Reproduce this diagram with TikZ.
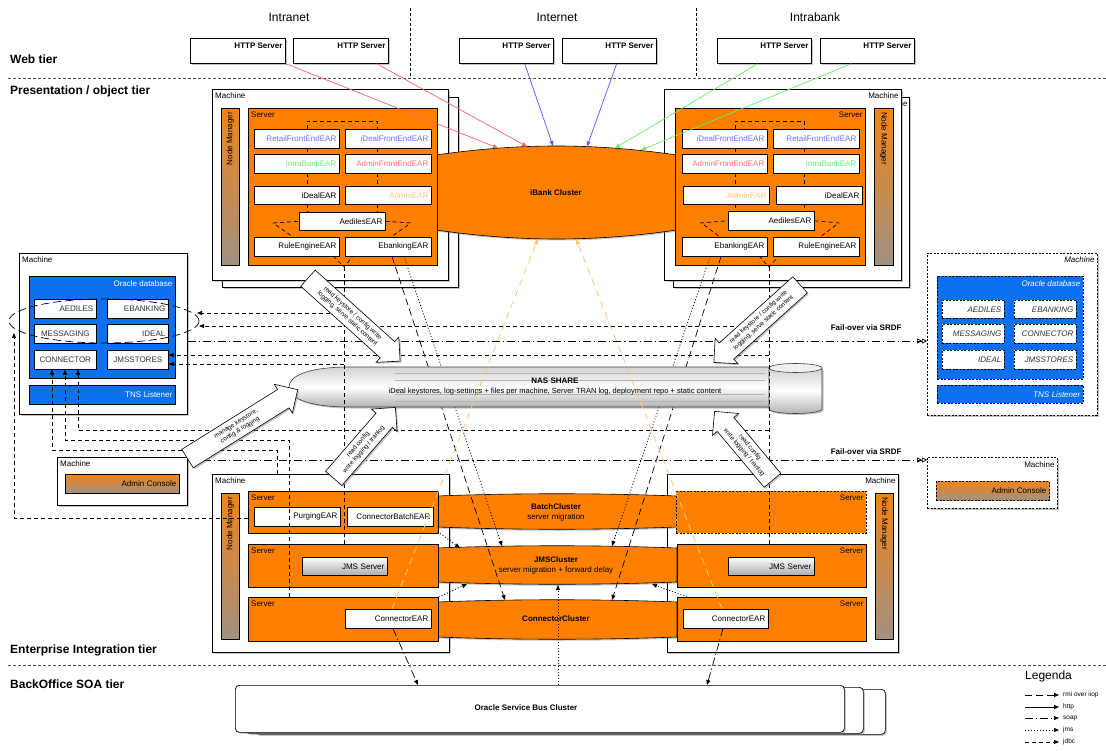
\documentclass[tikz,border=0pt]{standalone}
\usepackage{fontspec}
\setmainfont{Liberation Sans}
\usetikzlibrary{arrows.meta,shapes.arrows,shapes.geometric,shadows,calc}

\definecolor{orng}{RGB}{255,128,0}
\definecolor{dbblue}{RGB}{12,112,240}
\definecolor{earblue}{RGB}{110,110,255}
\definecolor{eargreen}{RGB}{110,235,110}
\definecolor{earred}{RGB}{255,110,110}
\definecolor{earorng}{RGB}{255,200,110}
\definecolor{httpred}{RGB}{255,100,100}
\definecolor{httpblue}{RGB}{90,90,255}
\definecolor{httpgreen}{RGB}{100,240,100}
\definecolor{nmtop}{RGB}{242,132,22}
\definecolor{nmbot}{RGB}{160,145,130}
\definecolor{dbtext}{RGB}{50,50,50}

\newcommand{\myfs}[1]{\fontsize{#1}{#1}\selectfont}
% rectangular node placed by its top-left corner, text flush right
\newcommand{\rbox}[7]{%
  \node[#6, anchor=north west, minimum width=#4pt, minimum height=#5pt,
        inner xsep=0pt, inner ysep=0pt, text width=#4pt, align=right]
        (#1) at (#2,#3) {#7\kern3pt};}
% same, text centred
\newcommand{\ctrbox}[7]{%
  \node[#6, anchor=north west, minimum width=#4pt, minimum height=#5pt,
        inner xsep=0pt, inner ysep=0pt, text width=#4pt, align=center]
        (#1) at (#2,#3) {#7};}

\tikzset{
  shadowed/.style={drop shadow={shadow xshift=1.5pt,shadow yshift=-1.5pt,opacity=0.45}},
  mframe/.style={draw, fill=white, line width=0.7pt, shadowed},
  dframe/.style={draw, fill=white, line width=0.7pt, dash pattern=on 2pt off 1.5pt, shadowed},
  srv/.style={draw, fill=orng, line width=0.7pt},
  dsrv/.style={draw, fill=orng, line width=0.7pt, dash pattern=on 2pt off 1.5pt},
  ear/.style={draw, fill=white, line width=0.6pt},
  nmbar/.style={draw, line width=0.6pt, top color=nmtop, bottom color=nmbot},
  jmsbox/.style={draw, line width=0.6pt, top color=white, bottom color=gray!65},
  dbbox/.style={draw, fill=dbblue, line width=0.5pt},
  ddbbox/.style={dbbox, dash pattern=on 2pt off 1.5pt},
  schema/.style={draw, fill=white, line width=0.6pt, text=dbtext},
  dschema/.style={schema, dash pattern=on 2pt off 1.5pt, font=\myfs{8}\itshape},
  lbltxt/.style={inner sep=0pt},
  tier/.style={font=\myfs{12}\bfseries, anchor=west, inner sep=0pt},
  zone/.style={font=\myfs{12}},
  httplbl/.style={font=\myfs{8}\bfseries, inner sep=0pt},
  clabel/.style={font=\myfs{8}\bfseries},
  csub/.style={font=\myfs{8}},
  clusterfill/.style={draw, fill=orng, line width=0.6pt, shadowed},
  nasfill/.style={draw=gray!50!black, line width=0.6pt, top color=gray!35, bottom color=gray!60, middle color=white, shadowed},
  osbbox/.style={draw, fill=white, line width=0.7pt, rounded corners=4pt, shadowed},
  tiersep/.style={dash pattern=on 3pt off 2pt, line width=0.7pt, gray!60!black},
  zonesep/.style={dash pattern=on 3pt off 2pt, line width=0.6pt},
  innerdash/.style={line width=0.7pt, dash pattern=on 4pt off 3pt},
  rmi/.style={line width=0.7pt, dash pattern=on 7pt off 4pt},
  soap/.style={line width=0.7pt, dash pattern=on 8pt off 3pt on 1.2pt off 3pt},
  jms/.style={line width=0.8pt, dash pattern=on 1pt off 2pt},
  jdbc/.style={line width=0.7pt, dash pattern=on 4pt off 3pt},
  httpline/.style={line width=0.7pt},
  orngdash/.style={line width=0.8pt, earorng, dash pattern=on 7pt off 5pt},
  arr/.style={-{Triangle[length=5pt,width=4pt]}},
  failtip/.style={-{Triangle[open,length=5pt,width=5pt]Triangle[open,length=5pt,width=5pt]}},
  barrow/.style={single arrow, draw, fill=white, line width=0.6pt,
    font=\fontsize{6.3}{7.6}\selectfont, align=center, inner xsep=2pt, inner ysep=3.5pt,
    minimum width=34pt, single arrow head extend=6pt, shadowed},
}

\begin{document}
\begin{tikzpicture}[x=1pt,y=-1pt,font=\myfs{8}]
\useasboundingbox (0,0) rectangle (1106,751);
\fill[white] (0,0) rectangle (1106,751);

% ---------------- tiers and zones ----------------
\draw[tiersep] (8,78) -- (1106,78);
\draw[tiersep] (8,665) -- (1106,665);
\draw[zonesep] (410,8) -- (410,77);
\draw[zonesep] (696,8) -- (696,77);
\node[tier] (t-web)  at (10,59)  {Web tier};
\node[tier] (t-pres) at (10,91)  {Presentation / object tier};
\node[tier] (t-eai)  at (10,650) {Enterprise Integration tier};
\node[tier] (t-bo)   at (10,684) {BackOffice SOA tier};
\node[zone] (z-intranet)  at (289,17) {Intranet};
\node[zone] (z-internet)  at (557,17) {Internet};
\node[zone] (z-intrabank) at (815,17) {Intrabank};

% ---------------- web tier ----------------
\foreach \n/\x/\w in {h1/190/95, h2/293/95, h3/459/94, h4/562/94, h5/717/94, h6/820/94} {
  \rbox{\n}{\x}{38}{\w}{25}{mframe}{}
  \node[httplbl, anchor=north east] (\n-t) at ([xshift=-3pt,yshift=-5pt]\n.north east) {HTTP Server};
}

% ---------------- presentation tier: machines ----------------
\rbox{mUL2}{222}{97}{236}{190}{mframe}{}
\rbox{mUL}{212}{89}{236}{191}{mframe}{}
\node[lbltxt, anchor=north west] (mUL-t) at ([xshift=3pt,yshift=-4pt]mUL.north west) {Machine};
\rbox{nmUL}{221}{108}{18}{157}{nmbar}{}
\node[lbltxt, rotate=90, anchor=east] (nmUL-t) at ([yshift=-4pt]nmUL.north) {Node Manager};

\rbox{mUR2}{673}{97}{236}{190}{mframe}{}
\node[lbltxt, anchor=north east] (mUR2-t) at ([xshift=-2pt,yshift=-4pt]mUR2.north east) {Machine};
\rbox{mUR}{664}{89}{237}{191}{mframe}{}
\node[lbltxt, anchor=north east] (mUR-t) at ([xshift=-3pt,yshift=-4pt]mUR.north east) {Machine};
\rbox{nmUR}{874}{108}{19}{157}{nmbar}{}
\node[lbltxt, rotate=-90, anchor=west] (nmUR-t) at ([yshift=-4pt]nmUR.north) {Node Manager};

% iBank cluster
\path[clusterfill] (436,155) .. controls (520,143) and (593,143) .. (677,155)
  -- (677,230) .. controls (593,242) and (520,242) .. (436,230) -- cycle;
\node[clabel] (ibank) at (556,193) {iBank Cluster};

% left server
\rbox{sUL}{248}{108}{189}{157}{srv}{}
\node[lbltxt, anchor=north west] (sUL-t) at ([xshift=3pt,yshift=-4pt]sUL.north west) {Server};
\rbox{eRetailL}{254}{129}{85}{19}{ear,text=earblue}{RetailFrontEndEAR}
\rbox{eIdealFL}{345}{129}{86}{19}{ear,text=earblue}{iDealFrontEndEAR}
\rbox{eIntraL}{254}{154}{85}{19}{ear,text=eargreen}{IntraBankEAR}
\rbox{eAdminFL}{345}{154}{86}{19}{ear,text=earred}{AdminFrontEndEAR}
\rbox{eIdealL}{254}{186}{85}{18}{ear}{iDealEAR}
\rbox{eAdminL}{345}{186}{86}{18}{ear,text=earorng}{AdminEAR}
\rbox{eAedL}{299}{212}{86}{18}{ear}{AedilesEAR}
\rbox{eRuleL}{254}{237}{85}{19}{ear}{RuleEngineEAR}
\rbox{eEbkL}{345}{237}{86}{19}{ear}{EbankingEAR}
\draw[innerdash] (307,129) -- (307,121) -- (377,121) -- (377,129);
\draw[innerdash] (307,148) -- (307,154) (377,148) -- (377,154)
                 (307,173) -- (307,186) (377,173) -- (377,186)
                 (307,204) -- (307,212) (377,204) -- (377,212);
\draw[innerdash] (273,223) -- (eAedL.west) (eAedL.east) -- (412,223);
\draw[innerdash] (276,225) -- (293,237) (408,225) -- (391,237);
\coordinate (vL) at (344,267);
\draw[innerdash] (333,256) -- (vL) -- (353,256);

% right server
\rbox{sUR}{675}{108}{190}{157}{srv}{}
\node[lbltxt, anchor=north east] (sUR-t) at ([xshift=-3pt,yshift=-4pt]sUR.north east) {Server};
\rbox{eIdealFR}{682}{129}{85}{19}{ear,text=earblue}{iDealFrontEndEAR}
\rbox{eRetailR}{773}{129}{86}{19}{ear,text=earblue}{RetailFrontEndEAR}
\rbox{eAdminFR}{682}{154}{85}{19}{ear,text=earred}{AdminFrontEndEAR}
\rbox{eIntraR}{773}{154}{86}{19}{ear,text=eargreen}{IntraBankEAR}
\rbox{eAdminR}{683}{186}{86}{18}{ear,text=earorng}{AdminEAR}
\rbox{eIdealR}{776}{186}{86}{18}{ear}{iDealEAR}
\rbox{eAedR}{728}{211}{86}{19}{ear}{AedilesEAR}
\rbox{eEbkR}{682}{237}{85}{19}{ear}{EbankingEAR}
\rbox{eRuleR}{773}{237}{86}{19}{ear}{RuleEngineEAR}
\draw[innerdash] (735,129) -- (735,121) -- (804,121) -- (804,129);
\draw[innerdash] (735,148) -- (735,154) (804,148) -- (804,154)
                 (735,173) -- (735,186) (804,173) -- (804,186)
                 (735,204) -- (735,211) (804,204) -- (804,211);
\draw[innerdash] (700,223) -- (eAedR.west) (eAedR.east) -- (840,223);
\draw[innerdash] (704,225) -- (720,237) (836,225) -- (820,237);
\coordinate (vR) at (769,267);
\draw[innerdash] (759,256) -- (vR) -- (779,256);

% ---------------- enterprise integration tier ----------------
\rbox{mLL}{212}{474}{237}{178}{mframe}{}
\node[lbltxt, anchor=north west] (mLL-t) at ([xshift=3pt,yshift=-4pt]mLL.north west) {Machine};
\rbox{nmLL}{221}{493}{18}{146}{nmbar}{}
\node[lbltxt, rotate=90, anchor=east] (nmLL-t) at ([yshift=-4pt]nmLL.north) {Node Manager};

\rbox{mLR}{667}{474}{231}{178}{mframe}{}
\node[lbltxt, anchor=north east] (mLR-t) at ([xshift=-3pt,yshift=-4pt]mLR.north east) {Machine};
\rbox{nmLR}{875}{493}{18}{146}{nmbar}{}
\node[lbltxt, rotate=-90, anchor=west] (nmLR-t) at ([yshift=-4pt]nmLR.north) {Node Manager};

% clusters
\path[clusterfill] (437,496) .. controls (517,493) and (597,493) .. (677,496)
  -- (677,527) .. controls (597,530) and (517,530) .. (437,527) -- cycle;
\path[clusterfill] (437,548) .. controls (517,545) and (597,545) .. (677,548)
  -- (677,582) .. controls (597,585) and (517,585) .. (437,582) -- cycle;
\path[clusterfill] (437,602) .. controls (517,599) and (597,599) .. (677,602)
  -- (677,637) .. controls (597,640) and (517,640) .. (437,637) -- cycle;
\node[clabel] (cBatch) at (556,507) {BatchCluster};
\node[csub] (cBatch-s) at (556,517) {server migration};
\node[clabel] (cJms) at (556,560) {JMSCluster};
\node[csub] (cJms-s) at (556,570) {server migration + forward delay};
\node[clabel] (cConn) at (556,619) {ConnectorCluster};

\rbox{sLL1}{248}{491}{190}{42}{srv}{}
\rbox{sLL2}{248}{544}{190}{43}{srv}{}
\rbox{sLL3}{248}{597}{190}{44}{srv}{}
\foreach \s in {sLL1,sLL2,sLL3}
  \node[lbltxt, anchor=north west] (\s-t) at ([xshift=3pt,yshift=-4pt]\s.north west) {Server};
\rbox{ePurge}{254}{507}{86}{19}{ear}{PurgingEAR}
\rbox{eCBatch}{347}{507}{86}{19}{ear}{ConnectorBatchEAR}
\rbox{jmsL}{302}{557}{85}{18}{jmsbox}{JMS Server}
\rbox{eConnL}{345}{609}{86}{19}{ear}{ConnectorEAR}

\rbox{sLR1}{676}{491}{190}{42}{dsrv}{}
\rbox{sLR2}{677}{544}{189}{43}{srv}{}
\rbox{sLR3}{677}{597}{189}{44}{srv}{}
\foreach \s in {sLR1,sLR2,sLR3}
  \node[lbltxt, anchor=north east] (\s-t) at ([xshift=-3pt,yshift=-4pt]\s.north east) {Server};
\rbox{jmsR}{728}{557}{86}{18}{jmsbox}{JMS Server}
\rbox{eConnR}{683}{609}{85}{19}{ear}{ConnectorEAR}

% ---------------- databases and admin consoles ----------------
\rbox{mDB}{19}{253}{168}{161}{mframe}{}
\node[lbltxt, anchor=north west] (mDB-t) at ([xshift=3pt,yshift=-4pt]mDB.north west) {Machine};
\rbox{odb}{29}{276}{146}{102}{dbbox}{}
\node[lbltxt, text=white, anchor=north east] (odb-t) at ([xshift=-3pt,yshift=-5pt]odb.north east) {Oracle database};
\rbox{sAed}{34}{299}{62}{19}{schema}{AEDILES}
\rbox{sEbk}{107}{299}{61}{19}{schema}{EBANKING}
\ctrbox{sMsg}{34}{324}{62}{19}{schema}{MESSAGING}
\rbox{sIdeal}{107}{324}{61}{19}{schema}{IDEAL}
\ctrbox{sConn}{34}{350}{62}{19}{schema}{CONNECTOR}
\ctrbox{sJms}{107}{350}{61}{19}{schema}{JMSSTORES}
\rbox{tns}{29}{385}{146}{19}{dbbox,text=white}{TNS Listener}
\node[draw, ellipse, line width=0.7pt, dash pattern=on 8pt off 4pt,
      minimum width=190pt, minimum height=44pt] (grp) at (104,321) {};

\rbox{mDB2}{927}{253}{170}{162}{dframe}{}
\node[lbltxt, font=\myfs{8}\itshape, anchor=north east] (mDB2-t) at ([xshift=-3pt,yshift=-4pt]mDB2.north east) {Machine};
\rbox{odb2}{937}{276}{146}{103}{ddbbox}{}
\node[lbltxt, font=\myfs{8}\itshape, text=white, anchor=north east] (odb2-t) at ([xshift=-3pt,yshift=-5pt]odb2.north east) {Oracle database};
\rbox{tAed}{942}{300}{62}{18}{dschema}{AEDILES}
\rbox{tEbk}{1014}{300}{62}{18}{dschema}{EBANKING}
\rbox{tMsg}{942}{324}{62}{19}{dschema}{MESSAGING}
\rbox{tConn}{1014}{324}{62}{19}{dschema}{CONNECTOR}
\rbox{tIdeal}{942}{350}{62}{19}{dschema}{IDEAL}
\rbox{tJms}{1014}{350}{62}{19}{dschema}{JMSSTORES}
\rbox{tns2}{937}{385}{146}{18}{ddbbox,text=white,font=\myfs{8}\itshape}{TNS Listener}

\rbox{mAdm}{57}{457}{130}{48}{mframe}{}
\node[lbltxt, anchor=north west] (mAdm-t) at ([xshift=3pt,yshift=-4pt]mAdm.north west) {Machine};
\rbox{adm}{65}{474}{114}{19}{nmbar}{Admin Console}
\rbox{mAdm2}{927}{457}{130}{51}{dframe}{}
\node[lbltxt, anchor=north east] (mAdm2-t) at ([xshift=-3pt,yshift=-5pt]mAdm2.north east) {Machine};
\rbox{adm2}{936}{481}{113}{19}{nmbar,dash pattern=on 2pt off 1.5pt}{Admin Console}

% ---------------- back office ----------------
\rbox{osb3}{255}{689}{630}{45}{osbbox}{}
\rbox{osb2}{245}{687}{618}{46}{osbbox}{}
\rbox{osb}{235}{685}{609}{47}{osbbox}{}
\node[clabel] (osb-t) at (526,708) {Oracle Service Bus Cluster};

% ---------------- connectors under the NAS share ----------------
\coordinate (ccT1) at (505,600);
\coordinate (ccT2) at (612,600);
\coordinate (jmsT1) at (502,546);
\coordinate (jmsT2) at (612,546);
\draw[rmi, arr] ([xshift=47pt]eEbkL.south west) -- (ccT1);
\draw[jms, arr] ([xshift=59pt]eEbkL.south west) -- (jmsT1);
\draw[rmi, arr] ([xshift=39pt]eEbkR.south west) -- (ccT2);
\draw[jms, arr] ([xshift=28pt]eEbkR.south west) -- (jmsT2);

% ---------------- NAS share ----------------
\path[nasfill] (770,367) -- (350,367) .. controls (305,367) and (289,377) .. (289,387)
  .. controls (289,397) and (305,407) .. (350,407) -- (770,407) -- cycle;
\foreach \y in {373,380,394,401}
  \draw[gray!60, line width=0.4pt] (395,\y) -- (765,\y);
\path[nasfill] (769,368) -- (769,409) arc[start angle=180, end angle=0, x radius=26.5, y radius=4.5]
  -- (822,368) -- cycle;
\draw[gray!50!black, line width=0.6pt, fill=gray!12] (795.5,368) ellipse [x radius=26.5, y radius=4.5];
\node[font=\myfs{8}\bfseries] (nas) at (555,381) {NAS SHARE};
\node[font=\myfs{7.5}] (nas-d) at (555,392) {iDeal keystores, log-settings + files per machine, Server TRAN log, deployment repo + static content};

% ---------------- http into the iBank cluster ----------------
\coordinate (ib1) at (498,148);
\coordinate (ib2) at (527,146.5);
\coordinate (ib3) at (553,146);
\coordinate (ib4) at (587,146.5);
\coordinate (ib5) at (615,148);
\coordinate (ib6) at (641,150);
\draw[httpline, httpred, arr] (h1.south east) -- (ib1);
\draw[httpline, httpred, arr] ([xshift=-12pt]h2.south east) -- (ib2);
\draw[httpline, httpblue, arr] ([xshift=-29pt]h3.south east) -- (ib3);
\draw[httpline, httpblue, arr] ([xshift=-40pt]h4.south east) -- (ib4);
\draw[httpline, httpgreen, arr] ([xshift=-54pt]h5.south east) -- (ib5);
\draw[httpline, httpgreen, arr] ([xshift=-63pt]h6.south east) -- (ib6);

% ---------------- jdbc ----------------
\coordinate (grpA) at (197,313);
\coordinate (grpB) at (199,326);
\coordinate (grpC) at (14,333);
\coordinate (jsA) at (sJms.east |- 0,355);
\coordinate (jsB) at (sJms.east |- 0,364);
\draw[jdbc] (vL) -- (vL |- sLL2.north);
\draw[jdbc] (vR) -- (vR |- sLR2.north);
\draw[jdbc, arr] (vL |- grpA) -- (grpA);
\draw[jdbc, arr] (vR |- grpB) -- (grpB);
\draw[jdbc, arr] (vR |- jsA) -- (jsA);
\draw[jdbc, arr] (vL |- jsB) -- (jsB);
\draw[jdbc, arr] (vR |- 0,430) -| ([xshift=44pt]sConn.south west);
\draw[jdbc, arr] ([xshift=41pt]sLL3.north west) -- ++(0,-157) -| ([xshift=31pt]sConn.south west);
\draw[jdbc, arr] ([xshift=65pt]mLL.north west) -- ++(0,-24) -| ([xshift=18pt]sConn.south west);
\draw[jdbc, arr] (sLL1.west |- 0,518) -| (grpC);

% ---------------- fail-over ----------------
\draw[soap, failtip] (mDB.east |- 0,341) -- (mDB2.west |- 0,341);
\draw[soap, failtip] (mAdm.east |- 0,460) -- (mAdm2.west |- 0,460);
\node[font=\myfs{8}\bfseries, anchor=east] (fo1) at (905,328) {Fail-over via SRDF};
\node[font=\myfs{8}\bfseries, anchor=east] (fo2) at (905,452) {Fail-over via SRDF};

% ---------------- jms / soap in the integration tier ----------------
\coordinate (jmsB) at (558,585);
\draw[jms, arr] ([xshift=-1pt,yshift=2pt]sLL1.south east) -- (460,548);
\draw[jms, arr] (sLL3.north east) -- (467,584);
\draw[jms, arr] ([xshift=10pt]sLR3.north west) -- (652,584);
\draw[jms, arr] ([xshift=323pt]osb.north west) -- (jmsB);
\draw[soap, arr] ([xshift=48pt]eConnL.south west) -- ([xshift=183pt]osb.north west);
\draw[soap, arr] ([xshift=40pt]eConnR.south west) -- ([xshift=472pt]osb.north west);

% admin http back to the iBank cluster
\coordinate (ibb1) at (538,238.5);
\coordinate (ibb2) at (576,238.5);
\draw[orngdash, -{Triangle[length=6pt,width=4pt]}] ([xshift=47pt]eConnL.north west) -- (ibb1);
\draw[orngdash, -{Triangle[length=6pt,width=4pt]}] ([xshift=39pt]eConnR.north west) -- (ibb2);

% ---------------- file access to the NAS share ----------------
\node[barrow, rotate=-42, minimum height=124pt] (fa1) at (350,316)
  {read keystore / config write\\logging, serve static content};
\node[barrow, rotate=42, shape border rotate=180, minimum height=116pt] (fa2) at (761,320)
  {read keystore / config write\\logging, serve static content};
\node[barrow, rotate=49, minimum height=94pt] (fa3) at (361,447)
  {read config\\write logging / tranlog};
\node[barrow, rotate=-50, shape border rotate=180, minimum height=90pt] (fa4) at (747,450)
  {read config\\write logging / tranlog};
\node[barrow, rotate=32, minimum height=130pt] (fa5) at (238,427)
  {manage keystore,\\config \& logging};

% ---------------- legend ----------------
\node[font=\myfs{12}, anchor=west, inner sep=0pt] (leg) at (1025,676) {Legenda};
\foreach \y/\st/\t [count=\i] in {695/rmi/rmi over iiop, 707/httpline/http, 718/soap/soap, 730/jms/jms, 742/jdbc/jdbc} {
  \coordinate (lg\i a) at (1025,\y);
  \coordinate (lg\i b) at (1059,\y);
  \draw[\st, arr] (lg\i a) -- (lg\i b);
  \node[font=\myfs{6.5}, anchor=west, inner sep=0pt] (lg\i t) at ([xshift=4pt]lg\i b) {\t};
}
\end{tikzpicture}
\end{document}
